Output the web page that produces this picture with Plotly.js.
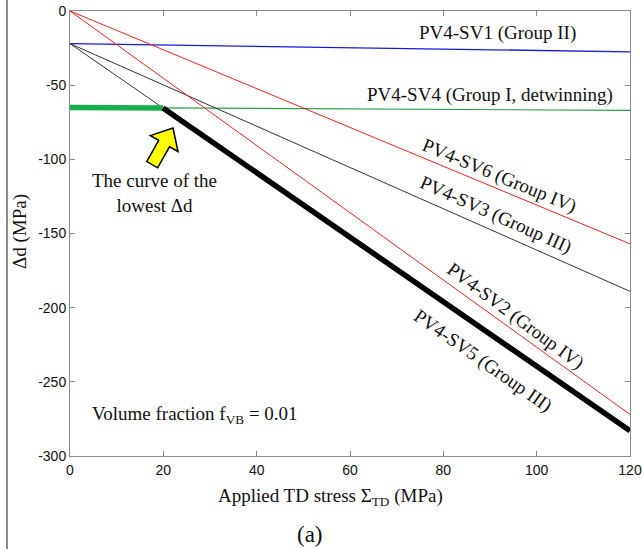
<!DOCTYPE html>
<html>
<head>
<meta charset="utf-8">
<script src="https://cdn.plot.ly/plotly-3.0.1.min.js"></script>
<style>html,body{margin:0;padding:0;background:#fff;}#chart{width:643px;height:549px;}</style>
</head>
<body>
<div id="chart"></div>
<script>
// ---- data ----
const stressTD = [0, 120];               // Applied TD stress (MPa)
const sv1 = [-22, -27.5];                // PV4-SV1 (Group II)
const sv4 = [-65, -67];                  // PV4-SV4 (Group I, detwinning)
const sv6 = [0, -157];                   // PV4-SV6 (Group IV)
const sv3 = [-22, -189];                 // PV4-SV3 (Group III)
const sv2 = [0, -272];                   // PV4-SV2 (Group IV)
const sv5 = [-22, -283];                 // PV4-SV5 (Group III)
const xTicks = [0, 20, 40, 60, 80, 100, 120];
const yTicks = [0, -50, -100, -150, -200, -250, -300];
const yTickText = ['0', '-50', '-100', '-150', '-200', '-250', '-300'];

// lowest-Δd curve: envelope of SV4 and SV5 (intersection computed from data)
function lineAt(y, x) { return y[0] + (y[1] - y[0]) * (x - stressTD[0]) / (stressTD[1] - stressTD[0]); }
const s4 = (sv4[1] - sv4[0]) / (stressTD[1] - stressTD[0]);
const s5 = (sv5[1] - sv5[0]) / (stressTD[1] - stressTD[0]);
const xCross = (sv4[0] - sv5[0]) / (s5 - s4);
const lowGreenX = [stressTD[0], xCross], lowGreenY = [sv4[0], lineAt(sv4, xCross)];
const lowBlackX = [xCross, stressTD[1]], lowBlackY = [lineAt(sv5, xCross), sv5[1]];

// ---- pixel helpers for decorations ----
const L = 70, R = 630, T = 11, B = 456;
const px = p => (p - L) / (R - L);
const py = p => (B - p) / (B - T);

const serif = 'Liberation Serif, Times New Roman, serif';
const sans = 'Liberation Sans, Arial, sans-serif';

const thin = (y, color, w) => ({x: stressTD, y: y, mode: 'lines', line: {color: color, width: w || 1}, hoverinfo: 'skip', showlegend: false});

const traces = [
  thin(sv1, '#1a1adb', 1.3),
  thin(sv4, '#2a9d4a', 1.2),
  thin(sv6, '#ee2222', 1),
  thin(sv3, '#333333', 1),
  thin(sv2, '#ee2222', 1),
  thin(sv5, '#333333', 1),
  {x: lowGreenX, y: lowGreenY, mode: 'lines', line: {color: '#17b04e', width: 5.5}, showlegend: false, hoverinfo: 'skip'},
  {x: lowBlackX, y: lowBlackY, mode: 'lines', line: {color: '#000000', width: 5.5}, showlegend: false, hoverinfo: 'skip'}
];

// arrow (yellow block arrow) in pixel coordinates
const arrowPts = [[173,128],[178,151.5],[169.5,146.8],[157.6,167.8],[146.8,161.6],[158.7,140.4],[150.3,135.6]];
const arrowPath = 'M ' + arrowPts.map(p => px(p[0]).toFixed(4) + ',' + py(p[1]).toFixed(4)).join(' L ') + ' Z';

const ann = (text, x, y, angle, extra) => Object.assign({
  text: text, x: x, y: y, xref: 'x', yref: 'y', showarrow: false,
  textangle: angle || 0, font: {family: serif, size: 19, color: '#111'}
}, extra || {});

const layout = {
  width: 643, height: 549,
  margin: {l: L, r: 643 - R, t: T, b: 549 - B, pad: 0},
  paper_bgcolor: '#fff', plot_bgcolor: '#fff',
  showlegend: false,
  xaxis: {
    range: [0, 120], tickvals: xTicks, ticks: 'inside', ticklen: 5, tickcolor: '#8a8a8a',
    showline: true, linecolor: '#8a8a8a', linewidth: 1, mirror: 'ticks', showgrid: false, zeroline: false,
    tickfont: {family: sans, size: 14, color: '#111'}, ticklabelstandoff: 1
  },
  yaxis: {
    range: [-300, 0], tickvals: yTicks, ticktext: yTickText, ticks: 'inside', ticklen: 5, tickcolor: '#8a8a8a',
    showline: true, linecolor: '#8a8a8a', linewidth: 1, mirror: 'ticks', showgrid: false, zeroline: false,
    tickfont: {family: sans, size: 14, color: '#111'}
  },
  shapes: [
    {type: 'line', xref: 'paper', yref: 'paper', x0: px(7), x1: px(7), y0: py(0), y1: py(549), line: {color: '#8a8a8a', width: 2}},
    {type: 'path', xref: 'paper', yref: 'paper', path: arrowPath, fillcolor: '#ffff00', line: {color: '#000', width: 1.5}, layer: 'above'}
  ],
  annotations: [
    ann('PV4-SV1 (Group II)', 91.5, -14.8),
    ann('PV4-SV4 (Group I, detwinning)', 90, -56.6),
    ann('PV4-SV6 (Group IV)', 92.1, -111.3, 22.5),
    ann('PV4-SV3 (Group III)', 91.3, -137.6, 24),
    ann('PV4-SV2 (Group IV)', 95.4, -205.7, 36.5),
    ann('PV4-SV5 (Group III)', 88.5, -236, 35),
    ann('The curve of the<br>lowest Δd', 18.2, -122.7, 0),
    ann('Volume fraction f<sub>VB</sub> = 0.01', 26.8, -272.4, 0),
    {text: 'Applied TD stress Σ<sub>TD</sub> (MPa)', xref: 'paper', yref: 'paper', x: px(330), y: py(497), showarrow: false,
     font: {family: serif, size: 19, color: '#111'}, xanchor: 'center', yanchor: 'middle'},
    {text: 'Δd (MPa)', xref: 'paper', yref: 'paper', x: px(20), y: py(232), showarrow: false, textangle: -90,
     font: {family: serif, size: 19, color: '#111'}, xanchor: 'center', yanchor: 'middle'},
    {text: '(a)', xref: 'paper', yref: 'paper', x: px(310), y: py(534), showarrow: false,
     font: {family: serif, size: 23, color: '#111'}, xanchor: 'center', yanchor: 'middle'}
  ]
};

Plotly.newPlot('chart', traces, layout, {displayModeBar: false, staticPlot: true});
</script>
</body>
</html>
